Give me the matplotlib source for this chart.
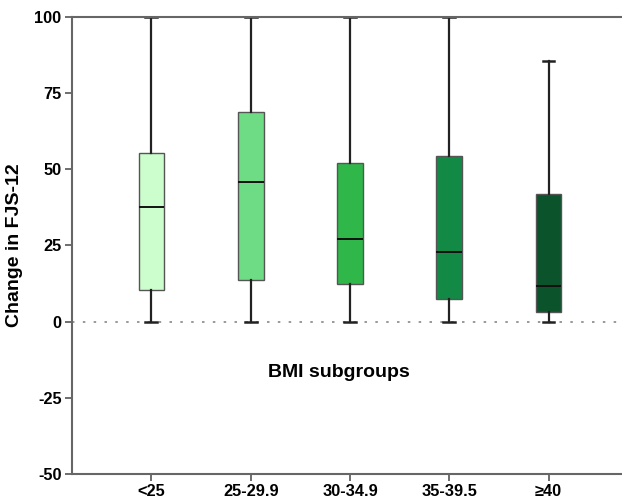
import matplotlib
matplotlib.use("Agg")
import matplotlib.pyplot as plt

plt.rcParams["font.family"] = ["Liberation Sans", "DejaVu Sans"]

categories = ["<25", "25-29.9", "30-34.9", "35-39.5", "\u226540"]
whislo = [0, 0, 0, 0, 0]
q1 = [10.3, 13.6, 12.5, 7.4, 3.2]
med = [37.6, 45.9, 27.2, 23.0, 11.8]
q3 = [55.4, 68.8, 52.2, 54.3, 42.0]
whishi = [100, 100, 100, 100, 85.6]
colors = ["#ccfdcc", "#6ddc85", "#2fb849", "#128a46", "#0b532b"]
yticks = [-50, -25, 0, 25, 50, 75, 100]

fig = plt.figure(figsize=(6.22, 5.04), dpi=100)
ax = fig.add_axes([0.1158, 0.0595, 0.8842, 0.9068])

stats = []
for i, c in enumerate(categories):
    stats.append(dict(label=c, whislo=whislo[i], q1=q1[i], med=med[i], q3=q3[i], whishi=whishi[i], fliers=[]))

bp = ax.bxp(stats, positions=range(len(categories)), widths=0.26, patch_artist=True,
            showfliers=False,
            boxprops=dict(edgecolor="#555555", linewidth=1.0),
            medianprops=dict(color="#111111", linewidth=1.4),
            whiskerprops=dict(color="#222222", linewidth=1.6),
            capprops=dict(color="#222222", linewidth=1.8),
            capwidths=0.12)
for patch, col in zip(bp["boxes"], colors):
    patch.set_facecolor(col)

ax.axhline(0, color="#888888", linestyle=(0, (1.5, 5)), linewidth=1.2, zorder=0)

ax.set_xlim(-0.8, 4.74)
ax.set_ylim(-50, 100)
ax.set_yticks(yticks)
ax.set_yticklabels([str(t) for t in yticks], fontweight="bold", fontsize=11.8)
ax.set_xticks(range(len(categories)))
ax.set_xticklabels(categories, fontweight="bold", fontsize=11.8)
ax.tick_params(axis="both", direction="out", length=5, width=1.2, color="#555555", pad=2.5)

for s in ["left", "top", "bottom"]:
    ax.spines[s].set_color("#666666")
    ax.spines[s].set_linewidth(1.5)
ax.spines["right"].set_visible(False)

ax.set_ylabel("Change in FJS-12", fontweight="bold", fontsize=14)
ax.yaxis.set_label_coords(-0.089, 0.5)
ax.text(1.89, -18.3, "BMI subgroups", fontweight="bold", fontsize=14, ha="center", va="baseline")

fig.savefig("out.png", dpi=100)
